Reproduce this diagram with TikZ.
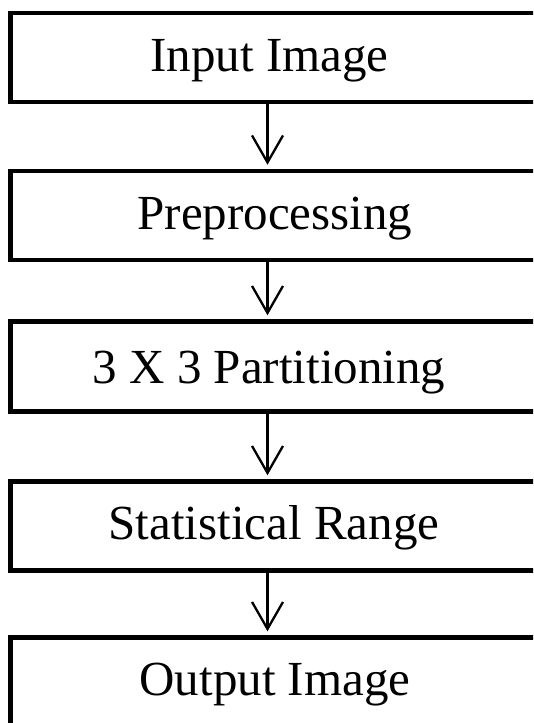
\documentclass[tikz,border=0pt]{standalone}
\usepackage{fontspec}
\setmainfont{Liberation Serif}
\usetikzlibrary{arrows.meta}
\begin{document}
\begin{tikzpicture}[x=1pt,y=1pt,
  stepbox/.style={draw=black,line width=4.5pt,minimum width=589.5pt,minimum height=89pt,inner sep=0pt,anchor=center},
  lbl/.style={font=\fontsize{49}{55}\selectfont,anchor=base,inner sep=0pt},
  arr/.style={line width=2.3pt,-{Straight Barb[length=27pt,width=31pt,line width=2.3pt]},shorten >=4pt}]
\useasboundingbox (0,0) rectangle (533,-723);
\clip (0,0) rectangle (533,-723);
\coordinate (ax) at (267.5,0);
\node[stepbox] (b1) at (305.25,-57.5) {};
\node[stepbox] (b2) at (305.25,-215.5) {};
\node[stepbox,minimum height=90pt] (b3) at (305.25,-366.5) {};
\node[stepbox] (b4) at (305.25,-526) {};
\node[stepbox] (b5) at (305.25,-682) {};
\node[lbl] (t1) at (269.5,-71) {Input Image};
\node[lbl] (t2) at (275,-229) {Preprocessing};
\node[lbl] (t3) at (269,-383.3) {3 X 3 Partitioning};
\node[lbl] (t4) at (274,-539) {Statistical Range};
\node[lbl] (t5) at (275,-695) {Output Image};
\draw[arr] (b1.south -| ax) -- (b2.north -| ax);
\draw[arr] (b2.south -| ax) -- (b3.north -| ax);
\draw[arr] (b3.south -| ax) -- (b4.north -| ax);
\draw[arr] (b4.south -| ax) -- (b5.north -| ax);
\end{tikzpicture}
\end{document}
